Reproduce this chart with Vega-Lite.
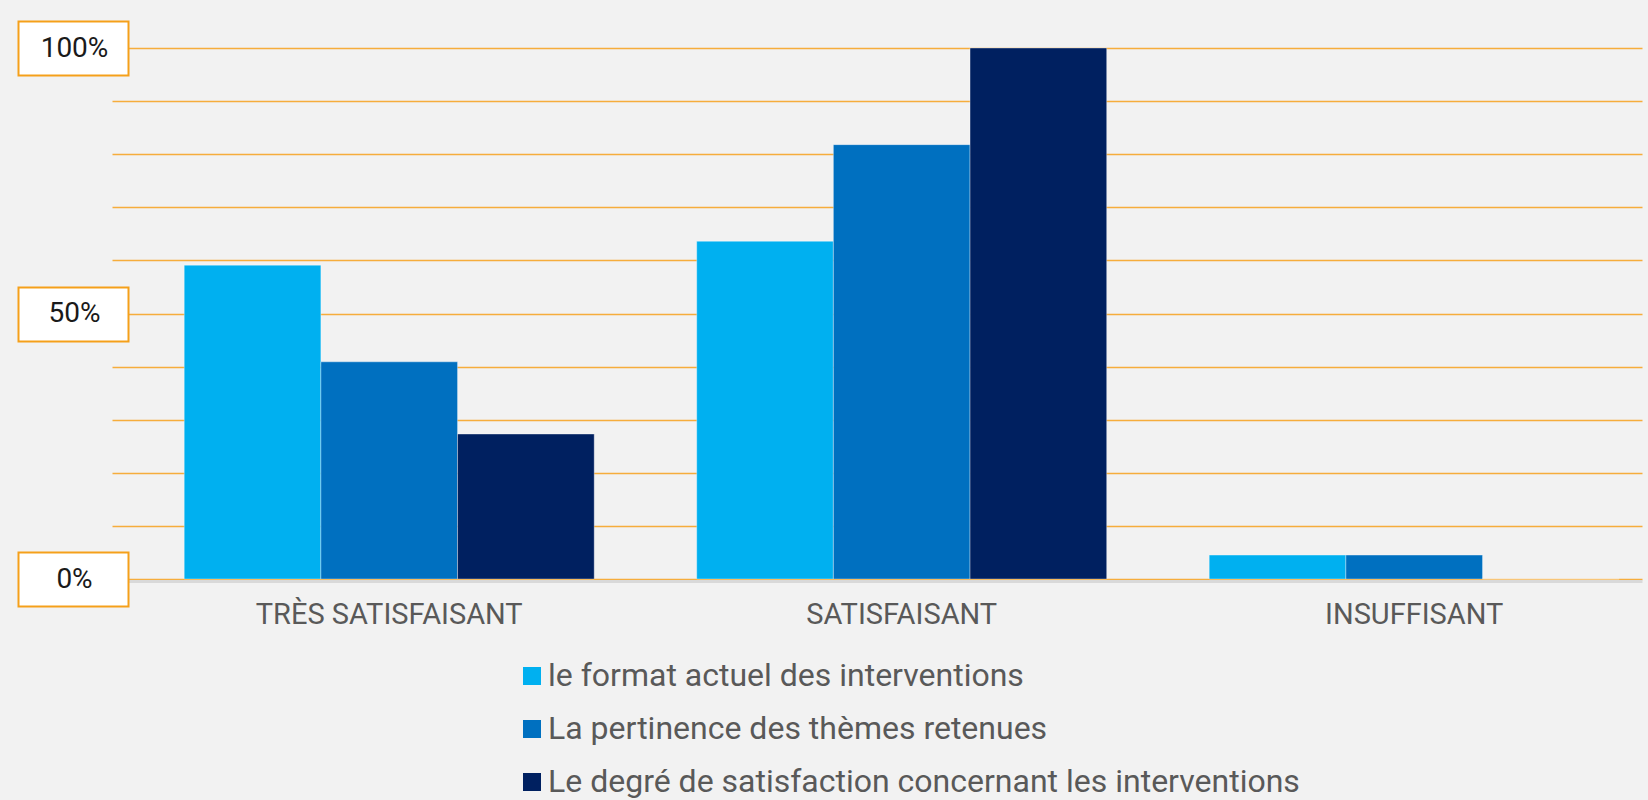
{
  "$schema": "https://vega.github.io/schema/vega-lite/v6.json",
  "autosize": {"type": "none"},
  "width": 1530,
  "height": 531,
  "padding": {"left": 112, "top": 48, "right": 6, "bottom": 221},
  "background": "#F2F2F2",
  "config": {"view": {"stroke": null}, "font": "Roboto"},
  "data": {
    "values": [
      {"categorie": "TRÈS SATISFAISANT", "serie": "le format actuel des interventions", "valeur": 59.1},
      {"categorie": "TRÈS SATISFAISANT", "serie": "La pertinence des thèmes retenues", "valeur": 40.9},
      {"categorie": "TRÈS SATISFAISANT", "serie": "Le degré de satisfaction concernant les interventions", "valeur": 27.3},
      {"categorie": "SATISFAISANT", "serie": "le format actuel des interventions", "valeur": 63.6},
      {"categorie": "SATISFAISANT", "serie": "La pertinence des thèmes retenues", "valeur": 81.8},
      {"categorie": "SATISFAISANT", "serie": "Le degré de satisfaction concernant les interventions", "valeur": 100},
      {"categorie": "INSUFFISANT", "serie": "le format actuel des interventions", "valeur": 4.5},
      {"categorie": "INSUFFISANT", "serie": "La pertinence des thèmes retenues", "valeur": 4.5},
      {"categorie": "INSUFFISANT", "serie": "Le degré de satisfaction concernant les interventions", "valeur": 0}
    ]
  },
  "layer": [
    {
      "mark": {"type": "bar", "stroke": "#FFFFFF", "strokeOpacity": 0.35, "strokeWidth": 1},
      "encoding": {
        "x": {
          "field": "categorie",
          "type": "nominal",
          "sort": ["TRÈS SATISFAISANT", "SATISFAISANT", "INSUFFISANT"],
          "scale": {"paddingInner": 0.2, "paddingOuter": 0.0927, "align": 0.76},
          "axis": {
            "title": null,
            "labelFontSize": 29,
            "labelColor": "#595959",
            "labelFont": "Roboto",
            "labelAngle": 0,
            "labelLimit": 600,
            "ticks": false,
            "domainColor": "#D9D9D9",
            "domainWidth": 3,
            "offset": 2,
            "labelPadding": 19
          }
        },
        "xOffset": {
          "field": "serie",
          "type": "nominal",
          "sort": ["le format actuel des interventions", "La pertinence des thèmes retenues", "Le degré de satisfaction concernant les interventions"],
          "scale": {"paddingInner": 0, "paddingOuter": 0}
        },
        "y": {
          "field": "valeur",
          "type": "quantitative",
          "scale": {"domain": [0, 100], "nice": false},
          "axis": {
            "orient": "left",
            "title": null,
            "values": [0, 10, 20, 30, 40, 50, 60, 70, 80, 90, 100],
            "grid": true,
            "gridColor": "#F6AD3C",
            "gridWidth": 1.5,
            "domain": false,
            "labels": false,
            "tickSize": 112,
            "tickWidth": 56,
            "offset": -17,
            "tickColor": {"condition": {"test": "datum.value % 50 === 0", "value": "#F5A01A"}, "value": "transparent"}
          }
        },
        "color": {
          "field": "serie",
          "type": "nominal",
          "scale": {
            "domain": ["le format actuel des interventions", "La pertinence des thèmes retenues", "Le degré de satisfaction concernant les interventions"],
            "range": ["#00B0F0", "#0070C0", "#002060"]
          },
          "legend": {
            "title": null,
            "orient": "none",
            "legendX": 404,
            "legendY": 612,
            "padding": 0,
            "direction": "vertical",
            "symbolType": "square",
            "symbolSize": 324,
            "symbolStrokeWidth": 0,
            "symbolOpacity": 1,
            "labelFontSize": 32,
            "labelFont": "Roboto",
            "labelColor": "#595959",
            "labelOffset": 0,
            "labelLimit": 900,
            "rowPadding": 21
          }
        }
      }
    },
    {
      "mark": {"type": "point", "opacity": 0},
      "encoding": {
        "y": {
          "field": "valeur",
          "type": "quantitative",
          "axis": {
            "orient": "left",
            "title": null,
            "values": [0, 50, 100],
            "grid": false,
            "domain": false,
            "tickSize": 108,
            "tickWidth": 52,
            "tickColor": "#FFFFFF",
            "offset": -15,
            "labelExpr": "datum.value + '%'",
            "labelAlign": "center",
            "labelBaseline": "middle",
            "labelPadding": -55,
            "labelFontSize": 28,
            "labelColor": "#1A1A1A",
            "labelFont": "Roboto"
          }
        }
      }
    }
  ],
  "resolve": {"axis": {"y": "independent"}}
}
